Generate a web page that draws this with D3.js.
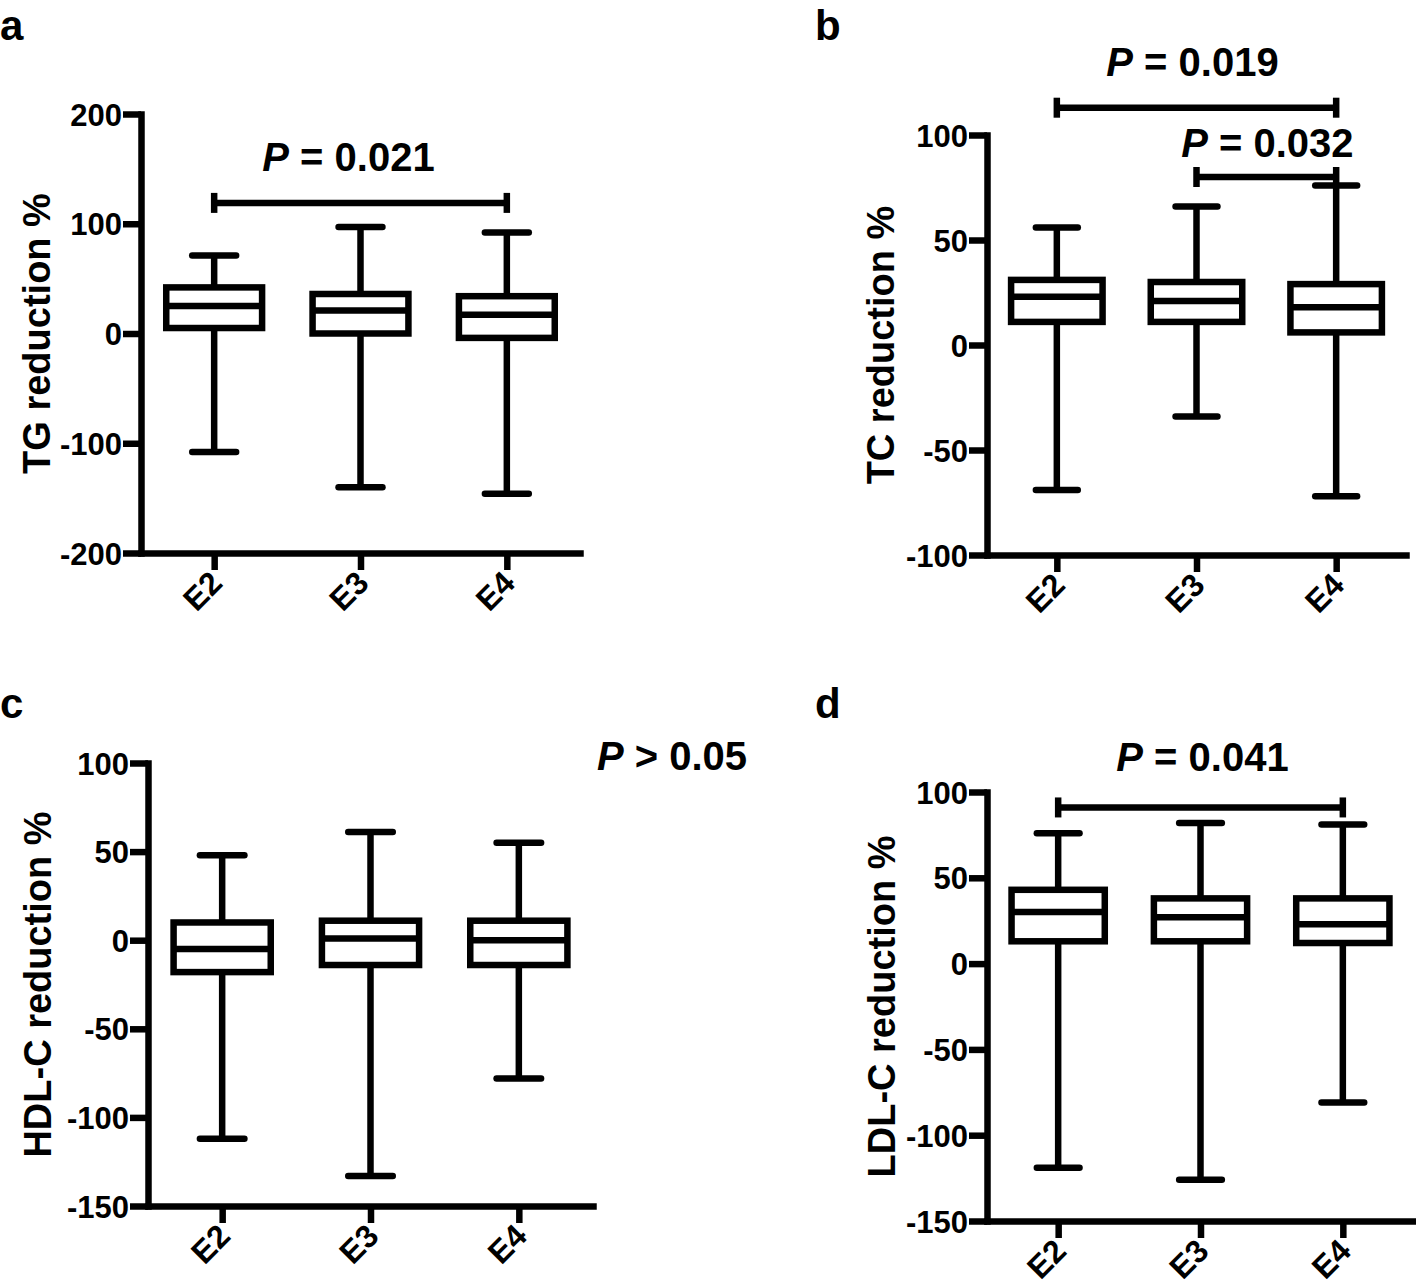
<!DOCTYPE html>
<html>
<head>
<meta charset="utf-8">
<script src="https://cdn.jsdelivr.net/npm/d3@7"></script>
<style>
  html, body { margin: 0; padding: 0; background: #fff; }
  svg { display: block; }
</style>
</head>
<body>
<svg id="chart" width="1416" height="1285"></svg>
<script>
// ---------------- DATA ----------------
const categories = ["E2", "E3", "E4"];
// each entry: [min, Q1, median, Q3, max]
const tgStats  = [[-108, 5, 25, 42, 71], [-140, 0, 21, 36, 97], [-146, -4, 17, 34, 92]];
const tcStats  = [[-69, 11, 23, 31, 56], [-34, 11, 21, 30, 66], [-72, 6, 18, 29, 76]];
const hdlStats = [[-112, -18, -5, 10, 48], [-133, -14, 1, 11, 61], [-78, -14, 0, 11, 55]];
const ldlStats = [[-119, 13, 30, 43, 76], [-126, 13, 27, 38, 82], [-81, 12, 23, 38, 81]];

const tgTicks  = [-200, -100, 0, 100, 200];
const tcTicks  = [-100, -50, 0, 50, 100];
const hdlTicks = [-150, -100, -50, 0, 50, 100];
const ldlTicks = [-150, -100, -50, 0, 50, 100];

const tgBrackets  = [{ from: "E2", to: "E4", value: 119, p: "= 0.021" }];
const tcBrackets  = [{ from: "E2", to: "E4", value: 113, p: "= 0.019" },
                     { from: "E3", to: "E4", value: 80, p: "= 0.032" }];
const hdlBrackets = [];
const ldlBrackets = [{ from: "E2", to: "E4", value: 91, p: "= 0.041" }];

// ---------------- LAYOUT ----------------
const FONT = "'Liberation Sans', Arial, Helvetica, sans-serif";
const LW = 6.5;

const panels = [
  { letter: "a", lx: 0, ly: 40, x0: 141, x1: 580, yTop: 114, yBot: 553, domain: [-200, 200],
    ticks: tgTicks, stats: tgStats, brackets: tgBrackets, title: "TG reduction %", titleX: 50,
    textOffsets: [{ dx: -12, dy: 32 }] },
  { letter: "b", lx: 815, ly: 40, x0: 987, x1: 1406, yTop: 135, yBot: 555, domain: [-100, 100],
    ticks: tcTicks, stats: tcStats, brackets: tcBrackets, title: "TC reduction %", titleX: 894,
    textOffsets: [{ dx: -4, dy: 32 }, { dx: 1, dy: 20 }] },
  { letter: "c", lx: 0, ly: 718, x0: 148, x1: 593, yTop: 763, yBot: 1206, domain: [-150, 100],
    ticks: hdlTicks, stats: hdlStats, brackets: hdlBrackets, title: "HDL-C reduction %", titleX: 51,
    textOffsets: [], freeText: { x: 672, y: 770, op: "> 0.05" } },
  { letter: "d", lx: 815, ly: 718, x0: 987, x1: 1414, yTop: 792, yBot: 1221, domain: [-150, 100],
    ticks: ldlTicks, stats: ldlStats, brackets: ldlBrackets, title: "LDL-C reduction %", titleX: 895,
    textOffsets: [{ dx: 2, dy: 36 }] }
];

const svg = d3.select("#chart");
svg.append("rect").attr("width", 1416).attr("height", 1285).attr("fill", "#fff");

function pText(g, x, y, rest) {
  const t = g.append("text")
    .attr("x", x).attr("y", y)
    .attr("text-anchor", "middle")
    .attr("font-family", FONT).attr("font-weight", "bold").attr("font-size", 40)
    .attr("fill", "#000");
  t.append("tspan").attr("font-style", "italic").text("P");
  t.append("tspan").text(" " + rest);
}

panels.forEach(p => {
  const g = svg.append("g");

  // panel letter
  g.append("text").attr("x", p.lx).attr("y", p.ly)
    .attr("font-family", FONT).attr("font-weight", "bold").attr("font-size", 42)
    .text(p.letter);

  const x = d3.scalePoint().domain(categories).range([p.x0, p.x1]).padding(0.5);
  const y = d3.scaleLinear().domain(p.domain).range([p.yBot, p.yTop]);
  const step = x.step();

  // y axis
  const ya = g.append("g").attr("transform", `translate(${p.x0},0)`)
    .call(d3.axisLeft(y).tickValues(p.ticks).tickSize(18).tickSizeOuter(0).tickPadding(1)
      .tickFormat(d => String(d)));
  ya.select(".domain").attr("stroke-width", LW).attr("stroke-linecap", "square");
  ya.selectAll(".tick line").attr("stroke-width", LW);
  ya.selectAll(".tick text").attr("font-family", FONT).attr("font-weight", "bold")
    .attr("font-size", 31).attr("fill", "#000").attr("dy", "0.36em");

  // x axis
  const xa = g.append("g").attr("transform", `translate(0,${p.yBot})`)
    .call(d3.axisBottom(x).tickSize(17).tickSizeOuter(0));
  xa.select(".domain").attr("stroke-width", LW).attr("stroke-linecap", "square");
  xa.selectAll(".tick line").attr("stroke-width", LW);
  xa.selectAll(".tick text").remove();

  // x labels rotated
  g.selectAll(".xlab").data(categories).join("text")
    .attr("class", "xlab")
    .attr("transform", d => `translate(${x(d) + 10},${p.yBot + 32}) rotate(-45)`)
    .attr("text-anchor", "end")
    .attr("font-family", FONT).attr("font-weight", "bold").attr("font-size", 32)
    .text(d => d);

  // y title
  g.append("text")
    .attr("transform", `translate(${p.titleX},${(p.yTop + p.yBot) / 2}) rotate(-90)`)
    .attr("text-anchor", "middle")
    .attr("font-family", FONT).attr("font-weight", "bold").attr("font-size", 38)
    .text(p.title);

  // box plots
  const boxW = step * 0.655;
  const capW = step * 0.30;
  const bg = g.selectAll(".box").data(p.stats).join("g").attr("class", "box")
    .attr("transform", (d, i) => `translate(${x(categories[i])},0)`);
  bg.append("line").attr("x1", 0).attr("x2", 0)
    .attr("y1", d => y(d[0])).attr("y2", d => y(d[4]))
    .attr("stroke", "#000").attr("stroke-width", LW);
  [0, 4].forEach(k => {
    bg.append("line").attr("x1", -capW / 2).attr("x2", capW / 2)
      .attr("y1", d => y(d[k])).attr("y2", d => y(d[k]))
      .attr("stroke", "#000").attr("stroke-width", LW).attr("stroke-linecap", "round");
  });
  bg.append("rect").attr("x", -boxW / 2).attr("width", boxW)
    .attr("y", d => y(d[3])).attr("height", d => y(d[1]) - y(d[3]))
    .attr("fill", "#fff").attr("stroke", "#000").attr("stroke-width", LW);
  bg.append("line").attr("x1", -boxW / 2).attr("x2", boxW / 2)
    .attr("y1", d => y(d[2])).attr("y2", d => y(d[2]))
    .attr("stroke", "#000").attr("stroke-width", LW);

  // significance brackets
  p.brackets.forEach((b, i) => {
    const xa1 = x(b.from), xa2 = x(b.to), yy = y(b.value);
    g.append("line").attr("x1", xa1).attr("x2", xa2).attr("y1", yy).attr("y2", yy)
      .attr("stroke", "#000").attr("stroke-width", LW);
    [xa1, xa2].forEach(xx => {
      g.append("line").attr("x1", xx).attr("x2", xx).attr("y1", yy - 10).attr("y2", yy + 10)
        .attr("stroke", "#000").attr("stroke-width", LW);
    });
    const off = p.textOffsets[i];
    pText(g, (xa1 + xa2) / 2 + off.dx, yy - off.dy, b.p);
  });
  if (p.freeText) pText(g, p.freeText.x, p.freeText.y, p.freeText.op);
});
</script>
</body>
</html>
